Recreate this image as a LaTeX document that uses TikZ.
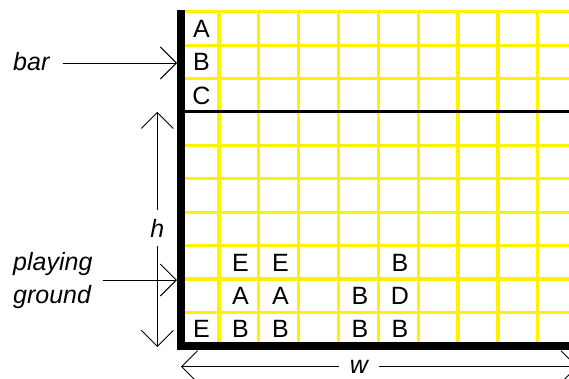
\documentclass[tikz,border=0pt]{standalone}
\usepackage{fontspec}
\setmainfont{Liberation Sans}
\usetikzlibrary{arrows.meta}
\begin{document}
\begin{tikzpicture}[x=1pt,y=-1pt,
  gridline/.style={yellow, line width=3.2pt},
  divider/.style={black, line width=3pt},
  cellletter/.style={anchor=base, inner sep=0pt, font=\fontsize{25}{30}\selectfont},
  lbl/.style={inner sep=0pt, font=\fontsize{25}{33}\selectfont\itshape},
  arr/.style={line width=0.9pt, -{Straight Barb[length=16pt,width=32pt]}},
  darr/.style={line width=0.9pt, {Straight Barb[length=16pt,width=32pt]}-{Straight Barb[length=16pt,width=32pt]}},
]
\useasboundingbox (0,0) rectangle (569,378);
\clip (0,0) rectangle (569,378);
% grid
\foreach \k in {0,1,2,4,5,6,7,8,9}
  \draw[gridline] (185,{11.7+33.4*\k}) -- (580,{11.7+33.4*\k});
\foreach \k in {1,...,10}
  \draw[gridline] ({179.2+39.84*\k},10.1) -- ({179.2+39.84*\k},346);
\draw[divider] (185,111.9) -- (580,111.9);
% thick bars
\fill[black] (177,10) rectangle (185,350);
\fill[black] (177,342) rectangle (580,350);
% bar letters
\node[cellletter] (bA) at (201.5,37.2) {A};
\node[cellletter] (bB) at (201.5,70.6) {B};
\node[cellletter] (bC) at (201.5,104.0) {C};
% playing ground letters
\node[cellletter] (p71) at (240.5,271.0) {E};
\node[cellletter] (p72) at (280.4,271.0) {E};
\node[cellletter] (p75) at (399.9,271.0) {B};
\node[cellletter] (p81) at (240.5,304.4) {A};
\node[cellletter] (p82) at (280.4,304.4) {A};
\node[cellletter] (p84) at (360.0,304.4) {B};
\node[cellletter] (p85) at (399.9,304.4) {D};
\node[cellletter] (p90) at (201.5,337.8) {E};
\node[cellletter] (p91) at (240.5,337.8) {B};
\node[cellletter] (p92) at (280.4,337.8) {B};
\node[cellletter] (p94) at (360.0,337.8) {B};
\node[cellletter] (p95) at (399.9,337.8) {B};
% bar label
\node[lbl, anchor=base west] (barlbl) at (13,70.7) {bar};
\coordinate (bartip) at (177,63);
\draw[arr] ([xshift=13pt]barlbl.east |- bartip) -- (bartip);
% playing ground label
\node[lbl, anchor=base west, align=left] (pglbl) at (13,303.3) {playing\\ground};
\coordinate (pgtip) at (177,280);
\draw[arr] ([xshift=10pt]pglbl.east |- pgtip) -- (pgtip);
% h
\coordinate (htop) at (157.3,111.9);
\coordinate (hbot) at (157.3,347);
\draw[darr] (htop) -- (hbot);
\node[lbl, fill=white, inner sep=9pt] (hlbl) at (157.3,228) {h};
% w
\coordinate (wl) at (181,366.7);
\coordinate (wr) at (577.6,366.7);
\draw[darr] (wl) -- (wr);
\node[lbl, fill=white, inner xsep=11pt, inner ysep=2pt] (wlbl) at (359,366.7) {w};
\end{tikzpicture}
\end{document}
